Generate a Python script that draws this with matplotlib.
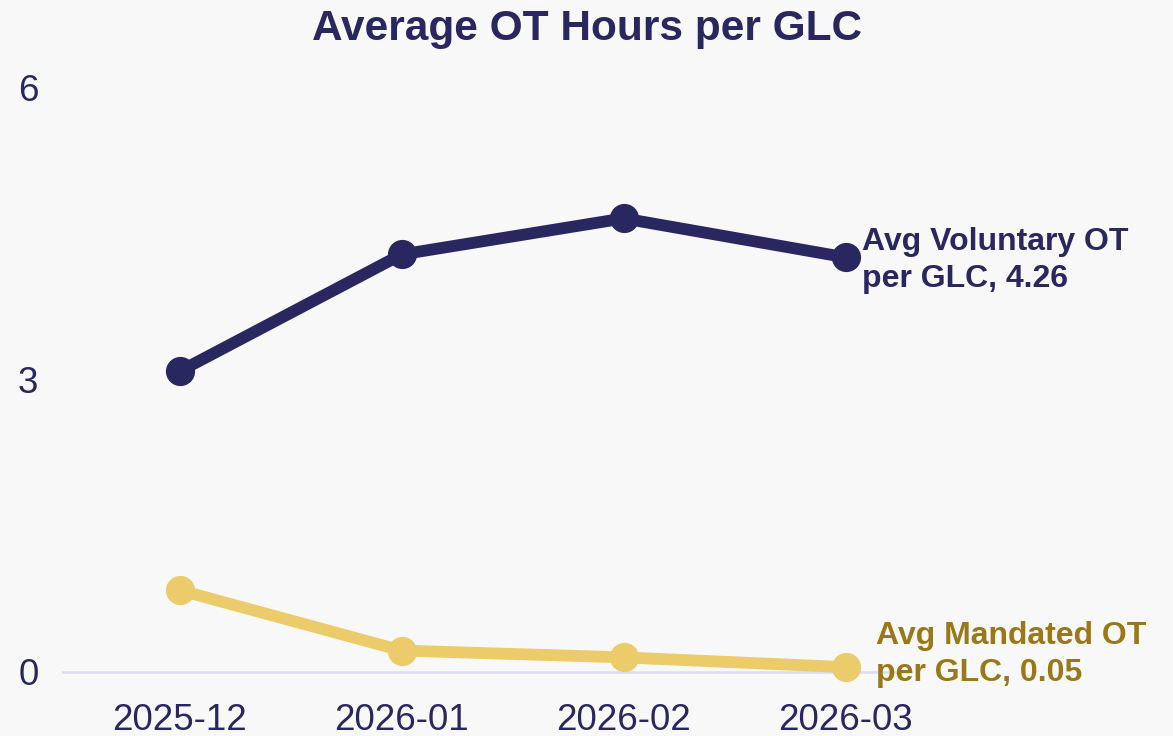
import matplotlib.pyplot as plt

plt.rcParams['font.family'] = ['Liberation Sans', 'DejaVu Sans']

months = ['2025-12', '2026-01', '2026-02', '2026-03']
voluntary = [3.09, 4.29, 4.66, 4.26]
mandated = [0.84, 0.22, 0.15, 0.05]
yticks = [0, 3, 6]

navy = '#29275f'
gold = '#eccb6a'
gold_text = '#9a7717'
bg = '#f8f8f8'

fig = plt.figure(figsize=(11.73, 7.36), dpi=100, facecolor=bg)
ax = fig.add_axes([0.0529, 0.0473, 0.7229, 0.8596], facecolor=bg)

x = list(range(len(months)))
ax.plot(x, voluntary, color=navy, lw=8.5, marker='o', ms=20, clip_on=False, zorder=3)
ax.plot(x, mandated, color=gold, lw=8.5, marker='o', ms=20, clip_on=False, zorder=3)

ax.axhline(0, color='#dcdcf0', lw=1.8, zorder=1)

ax.set_xlim(-0.53, 3.29)
ax.set_ylim(-0.3, 6.2)
ax.set_xticks(x)
ax.set_xticklabels(months)
ax.set_yticks(yticks)
ax.set_yticklabels([str(t) for t in yticks])
ax.tick_params(axis='both', length=0, labelsize=26.5, labelcolor=navy)
ax.tick_params(axis='y', pad=17)
ax.tick_params(axis='x', pad=1)
for s in ax.spines.values():
    s.set_visible(False)

ax.annotate(f'Avg Voluntary OT\nper GLC, {voluntary[-1]:.2f}', xy=(x[-1], voluntary[-1]),
            xytext=(12, -2), textcoords='offset points', ha='left', va='center',
            fontsize=23, fontweight='bold', color=navy, linespacing=1.3,
            annotation_clip=False)
ax.annotate(f'Avg Mandated OT\nper GLC, {mandated[-1]:.2f}', xy=(x[-1], mandated[-1]),
            xytext=(22, 9), textcoords='offset points', ha='left', va='center',
            fontsize=23, fontweight='bold', color=gold_text, linespacing=1.3,
            annotation_clip=False)

fig.text(0.5, 1 - 29 / 736, 'Average OT Hours per GLC', ha='center', va='center',
         fontsize=30.5, fontweight='bold', color=navy)

fig.savefig('out.png', dpi=100, facecolor=bg)
